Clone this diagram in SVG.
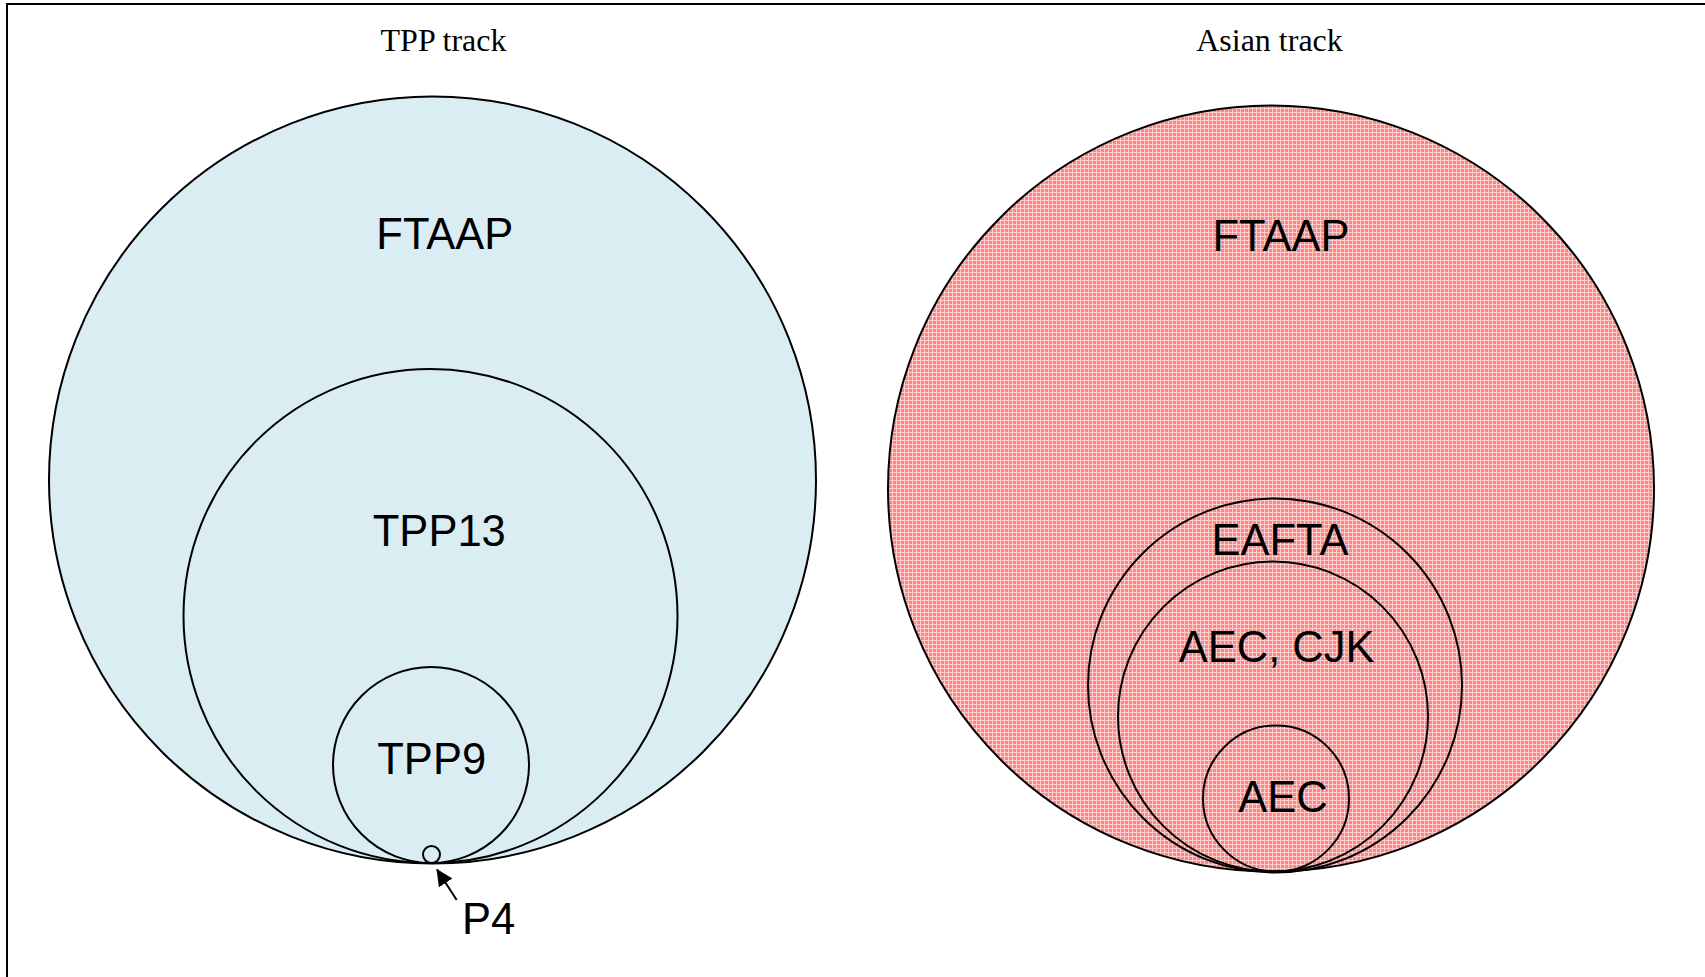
<svg xmlns="http://www.w3.org/2000/svg" width="1705" height="977" viewBox="0 0 1705 977">
<style>
.c{stroke:#000;stroke-width:2;}
.blue{fill:#daedf3;}
.none{fill:none;}
.lbl{font-family:"Liberation Sans",Arial,sans-serif;font-size:43.5px;fill:#000;text-anchor:middle;}
.ttl{font-family:"Liberation Serif","Times New Roman",serif;font-size:32px;fill:#000;text-anchor:middle;}
</style>
<defs>
<pattern id="pink" width="4" height="4" patternUnits="userSpaceOnUse">
<rect width="4" height="4" fill="#ff8585"/>
<rect x="0" y="0" width="4" height="1" fill="#ffcccc"/>
<rect x="0" y="0" width="1" height="4" fill="#ffcccc"/>
</pattern>
<marker id="ah" markerWidth="17" markerHeight="16" refX="16" refY="8" orient="auto" markerUnits="userSpaceOnUse" viewBox="0 0 17 16">
<path d="M0,0 L17,8 L0,16 z" fill="#000"/>
</marker>
</defs>
<rect width="1705" height="977" fill="#fff"/>
<path d="M7,977 L7,4 L1705,4" fill="none" stroke="#000" stroke-width="2"/>
<text class="ttl" x="443.5" y="51">TPP track</text>
<text class="ttl" x="1269.5" y="51">Asian track</text>
<g id="tpp-ftaap"><circle class="c blue" cx="432.5" cy="480" r="383.5"/><text class="lbl" x="444.8" y="249">FTAAP</text></g>
<g id="tpp13"><circle class="c blue" cx="430.5" cy="616" r="247"/><text class="lbl" x="439.3" y="546">TPP13</text></g>
<g id="tpp9"><circle class="c blue" cx="431" cy="765" r="98"/><text class="lbl" x="431.7" y="774">TPP9</text></g>
<g id="p4"><circle class="c blue" cx="431.5" cy="854.5" r="8.5"/><text class="lbl" x="488.5" y="934">P4</text></g>
<g id="asia-ftaap"><circle class="c" fill="url(#pink)" cx="1271" cy="488.5" r="383"/><text class="lbl" x="1281" y="251">FTAAP</text></g>
<g id="eafta"><circle class="c none" cx="1275" cy="685.5" r="187"/><text class="lbl" x="1280" y="555">EAFTA</text></g>
<g id="aec-cjk"><circle class="c none" cx="1273" cy="716.5" r="155"/><text class="lbl" x="1276.6" y="662">AEC, CJK</text></g>
<g id="aec"><circle class="c none" cx="1276" cy="798.5" r="73"/><text class="lbl" x="1283" y="812">AEC</text></g>
<g id="connectors">
<line x1="456.7" y1="900" x2="437" y2="869.5" stroke="#000" stroke-width="2" marker-end="url(#ah)"/>
</g>
</svg>
